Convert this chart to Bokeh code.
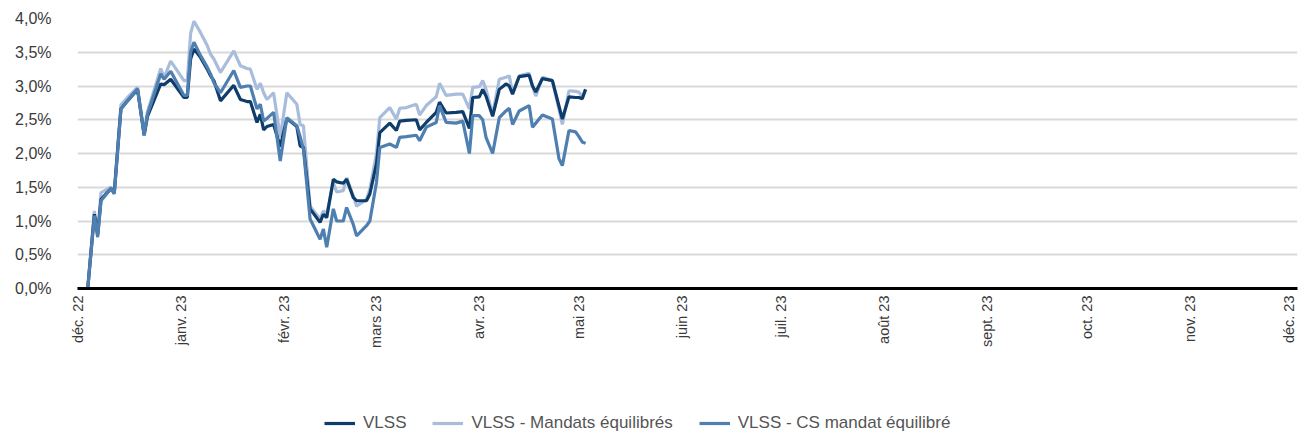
import math
import pandas as pd
from bokeh.plotting import figure
from bokeh.layouts import column
from bokeh.models import ColumnDataSource, FixedTicker, Legend, LegendItem, Range1d
from bokeh.embed import file_html
from bokeh.resources import INLINE

dates = ["2022-12-01", "2022-12-04", "2022-12-06", "2022-12-07", "2022-12-08", "2022-12-11",
         "2022-12-12", "2022-12-14", "2022-12-16", "2022-12-19", "2022-12-21", "2022-12-22",
         "2022-12-26", "2022-12-27", "2022-12-29", "2023-01-02", "2023-01-03", "2023-01-04",
         "2023-01-05", "2023-01-07", "2023-01-09", "2023-01-10", "2023-01-11", "2023-01-13",
         "2023-01-17", "2023-01-19", "2023-01-21", "2023-01-22", "2023-01-24", "2023-01-25",
         "2023-01-26", "2023-01-27", "2023-01-29", "2023-01-31", "2023-02-02", "2023-02-05",
         "2023-02-06", "2023-02-07", "2023-02-09", "2023-02-12", "2023-02-13", "2023-02-14",
         "2023-02-16", "2023-02-17", "2023-02-19", "2023-02-20", "2023-02-22", "2023-02-23",
         "2023-02-26", "2023-02-27", "2023-03-01", "2023-03-02", "2023-03-05", "2023-03-07",
         "2023-03-08", "2023-03-10", "2023-03-13", "2023-03-14", "2023-03-16", "2023-03-19",
         "2023-03-20", "2023-03-22", "2023-03-25", "2023-03-27", "2023-03-29", "2023-03-30",
         "2023-04-01", "2023-04-02", "2023-04-03", "2023-04-05", "2023-04-07", "2023-04-09",
         "2023-04-10", "2023-04-11", "2023-04-13", "2023-04-16", "2023-04-17", "2023-04-18",
         "2023-04-20", "2023-04-23", "2023-04-25", "2023-04-26", "2023-04-28", "2023-04-30",
         "2023-05-01", "2023-05-02", "2023-05-03"]

vlss = [0.00, 0.00, 1.10, 0.80, 1.32, 1.48, 1.42, 2.66, 2.78, 2.95, 2.27, 2.55,
        3.03, 3.02, 3.10, 2.83, 2.83, 3.40, 3.55, 3.42, 3.25, 3.15, 3.08, 2.78,
        3.01, 2.80, 2.77, 2.77, 2.46, 2.58, 2.35, 2.40, 2.43, 2.10, 2.52, 2.40,
        2.11, 2.09, 1.18, 0.98, 1.10, 1.05, 1.62, 1.58, 1.56, 1.62, 1.35, 1.30,
        1.30, 1.40, 1.85, 2.31, 2.45, 2.34, 2.48, 2.49, 2.50, 2.35, 2.46, 2.61,
        2.76, 2.60, 2.61, 2.62, 2.37, 2.83, 2.84, 2.95, 2.85, 2.55, 2.95, 3.03,
        3.00, 2.88, 3.14, 3.16, 3.00, 2.91, 3.11, 3.08, 2.70, 2.51, 2.84, 2.83,
        2.83, 2.81, 2.95]

mandats = [0.00, 0.00, 1.15, 0.82, 1.42, 1.50, 1.45, 2.72, 2.83, 2.98, 2.30, 2.62,
           3.26, 3.12, 3.37, 3.08, 3.08, 3.78, 3.96, 3.79, 3.60, 3.47, 3.40, 3.20,
           3.52, 3.30, 3.26, 3.25, 2.95, 3.04, 2.90, 2.80, 2.90, 2.24, 2.90, 2.73,
           2.43, 2.41, 1.22, 1.03, 1.15, 1.10, 1.57, 1.43, 1.45, 1.64, 1.37, 1.22,
           1.32, 1.47, 2.00, 2.53, 2.68, 2.51, 2.67, 2.68, 2.73, 2.57, 2.71, 2.84,
           3.04, 2.86, 2.88, 2.88, 2.66, 2.98, 2.99, 3.08, 2.95, 2.58, 3.10, 3.13,
           3.15, 2.90, 3.15, 3.19, 3.00, 2.85, 3.13, 3.08, 2.65, 2.43, 2.93, 2.92,
           2.91, 2.84, 2.95]

cs = [0.00, 0.00, 1.08, 0.76, 1.30, 1.48, 1.40, 2.66, 2.78, 2.96, 2.27, 2.58,
      3.18, 3.10, 3.22, 2.86, 2.86, 3.50, 3.65, 3.45, 3.28, 3.18, 3.05, 2.90,
      3.23, 2.98, 3.00, 3.00, 2.66, 2.73, 2.48, 2.52, 2.61, 1.89, 2.53, 2.41,
      2.25, 2.06, 1.03, 0.73, 0.88, 0.61, 1.18, 1.00, 1.00, 1.20, 0.95, 0.78,
      0.93, 1.00, 1.57, 2.09, 2.14, 2.09, 2.24, 2.25, 2.27, 2.19, 2.39, 2.46,
      2.71, 2.46, 2.45, 2.48, 2.00, 2.56, 2.56, 2.50, 2.24, 2.00, 2.53, 2.63,
      2.67, 2.43, 2.63, 2.71, 2.39, 2.45, 2.57, 2.51, 1.92, 1.82, 2.34, 2.32,
      2.25, 2.17, 2.15]

tick_dates = ["2022-12-01", "2023-01-01", "2023-02-01", "2023-03-01", "2023-04-01",
              "2023-05-01", "2023-06-01", "2023-07-01", "2023-08-01", "2023-09-01",
              "2023-10-01", "2023-11-01", "2023-12-01"]
tick_labels = ["déc. 22", "janv. 23", "févr. 23", "mars 23", "avr. 23", "mai 23",
               "juin 23", "juil. 23", "août 23", "sept. 23", "oct. 23", "nov. 23", "déc. 23"]

y_ticks = [0.0, 0.5, 1.0, 1.5, 2.0, 2.5, 3.0, 3.5, 4.0]
y_labels = ["0,0%", "0,5%", "1,0%", "1,5%", "2,0%", "2,5%", "3,0%", "3,5%", "4,0%"]

series_names = ["VLSS", "VLSS - Mandats équilibrés", "VLSS - CS mandat équilibré"]
series_cols = ["vlss", "mandats", "cs"]
colors = ["#0f3d6b", "#a8bddb", "#4f7fb0"]

FONT = "Liberation Sans"
LW = 3.2

src = ColumnDataSource(dict(date=pd.to_datetime(dates), vlss=vlss, mandats=mandats, cs=cs))

x_start = pd.Timestamp("2022-12-01") - pd.Timedelta(hours=2)
x_end = pd.Timestamp("2023-12-03 12:00")

p = figure(width=1299, height=408, x_axis_type="datetime",
           x_range=Range1d(x_start, x_end), y_range=Range1d(0, 4.0),
           output_backend="svg", toolbar_location=None,
           min_border_left=77, min_border_right=2, min_border_top=18, min_border_bottom=120)
p.outline_line_color = None
p.background_fill_color = "white"
p.border_fill_color = "white"

p.line("date", "mandats", source=src, line_color=colors[1], line_width=LW)
p.line("date", "vlss", source=src, line_color=colors[0], line_width=LW)
p.line("date", "cs", source=src, line_color=colors[2], line_width=LW)

p.xgrid.grid_line_color = None
p.ygrid.grid_line_color = "#d9d9d9"
p.ygrid.grid_line_width = 2

p.yaxis.ticker = FixedTicker(ticks=y_ticks)
p.yaxis.major_label_overrides = {float(t): l for t, l in zip(y_ticks, y_labels)}
p.yaxis.axis_line_color = None
p.yaxis.major_tick_line_color = None
p.yaxis.minor_tick_line_color = None
p.yaxis.major_tick_out = 0
p.yaxis.major_label_standoff = 26
p.yaxis.major_label_text_font = FONT
p.yaxis.major_label_text_font_size = "16px"
p.yaxis.major_label_text_color = "#3a3a3a"

tick_ms = [float(pd.Timestamp(d).value // 10**6) for d in tick_dates]
p.xaxis.ticker = FixedTicker(ticks=tick_ms)
p.xaxis.major_label_overrides = {t: l for t, l in zip(tick_ms, tick_labels)}
p.xaxis.major_label_orientation = math.pi / 2
p.xaxis.axis_line_color = "black"
p.xaxis.axis_line_width = 3
p.xaxis.major_tick_line_color = None
p.xaxis.minor_tick_line_color = None
p.xaxis.major_tick_out = 0
p.xaxis.major_label_standoff = 7
p.xaxis.major_label_text_font = FONT
p.xaxis.major_label_text_font_size = "14.5px"
p.xaxis.major_label_text_color = "#3a3a3a"

# legend strip: a small figure under the chart; its lines use the same data,
# which lies outside this strip's ranges, so only the legend shows
lg = figure(width=1299, height=25, output_backend="svg", toolbar_location=None,
            x_range=Range1d(0, 1), y_range=Range1d(0, 1),
            x_axis_location=None, y_axis_location=None,
            min_border_left=0, min_border_right=0, min_border_top=0, min_border_bottom=0)
lg.outline_line_color = None
lg.xgrid.grid_line_color = None
lg.ygrid.grid_line_color = None
lr = [lg.line("date", c, source=src, line_color=col, line_width=LW)
      for c, col in zip(series_cols, colors)]

legend = Legend(items=[LegendItem(label=n, renderers=[r]) for n, r in zip(series_names, lr)],
                orientation="horizontal", location=(247, 0),
                label_text_font=FONT, label_text_font_size="17px",
                label_text_color="#555555", glyph_width=31, glyph_height=16,
                label_standoff=8, spacing=26, padding=0, margin=0,
                border_line_color=None, background_fill_alpha=0)
lg.add_layout(legend, "center")

layout = column(p, lg, spacing=0)
open("out.html", "w").write(file_html(layout, INLINE))
